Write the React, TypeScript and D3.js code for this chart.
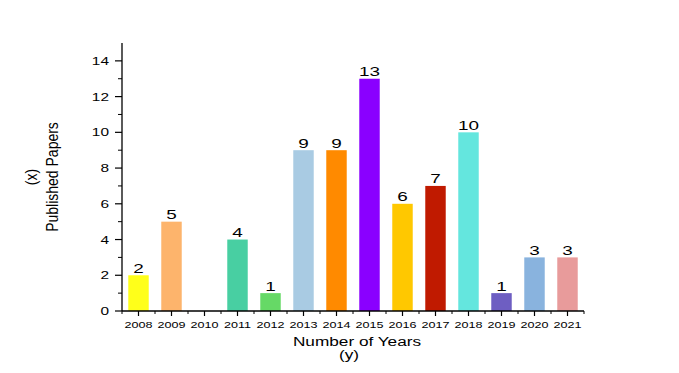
import React from "react";
import * as d3 from "d3";

const years = ["2008", "2009", "2010", "2011", "2012", "2013", "2014", "2015", "2016", "2017", "2018", "2019", "2020", "2021"];
const papers = [2, 5, 0, 4, 1, 9, 9, 13, 6, 7, 10, 1, 3, 3];
const colors = ["#FFFF1A", "#FDB46C", "#CCCCCC", "#48CFA2", "#66D966", "#A9CBE3", "#FF8A00", "#8A00FF", "#FFC800", "#C01A00", "#64E6DE", "#6E5EC2", "#89B3DE", "#E89B9B"];
const yTicks = [0, 2, 4, 6, 8, 10, 12, 14];

const font = "Arial, 'Liberation Sans', sans-serif";
const SX = 1.4; // the reference text is stretched sideways

// text stretched horizontally around its anchor point
const WideText = (p: { x: number; y: number; size: number; anchor?: string; children: any }) => (
  <text
    transform={`translate(${p.x},${p.y}) scale(${SX},1)`}
    textAnchor={p.anchor || "middle"}
    fontSize={p.size}
  >
    {p.children}
  </text>
);

export default function App() {
  const w = 679;
  const h = 373;
  const left = 122;
  const right = 584;
  const bottom = 311;
  const top = 43;

  const x = d3.scaleBand<string>().domain(years).range([left, right]).paddingInner(0.38).paddingOuter(0.19);
  const y = d3.scaleLinear().domain([0, 15]).range([bottom, top]);
  const minorY = d3.range(1, 15, 2);
  const step = x.step();

  return (
    <svg width={w} height={h} style={{ position: "absolute", left: 0, top: 0 }} fontFamily={font}>
      <rect width={w} height={h} fill="#fff" />
      {years.map((yr, i) => (
        <g key={yr}>
          {papers[i] > 0 && (
            <rect x={x(yr)} y={y(papers[i])} width={x.bandwidth()} height={bottom - y(papers[i])} fill={colors[i]} />
          )}
          {papers[i] > 0 && (
            <WideText x={(x(yr) as number) + x.bandwidth() / 2} y={y(papers[i]) - 2.5} size={13.5}>
              {papers[i]}
            </WideText>
          )}
        </g>
      ))}
      {/* y axis */}
      <line x1={left} x2={left} y1={top} y2={bottom} stroke="#000" strokeWidth={1.3} />
      {yTicks.map((t) => (
        <g key={t}>
          <line x1={left - 7} x2={left} y1={y(t)} y2={y(t)} stroke="#000" strokeWidth={1.2} />
          <WideText x={left - 13} y={y(t) + 4} size={11} anchor="end">
            {t}
          </WideText>
        </g>
      ))}
      {minorY.map((t) => (
        <line key={t} x1={left - 4} x2={left} y1={y(t)} y2={y(t)} stroke="#000" strokeWidth={1} />
      ))}
      {/* x axis */}
      <line x1={left} x2={right} y1={bottom} y2={bottom} stroke="#000" strokeWidth={1.3} />
      {years.map((yr) => {
        const cx = (x(yr) as number) + x.bandwidth() / 2;
        return (
          <g key={yr}>
            <line x1={cx} x2={cx} y1={bottom} y2={bottom + 5} stroke="#000" strokeWidth={1.2} />
            <line x1={cx + step / 2} x2={cx + step / 2} y1={bottom} y2={bottom + 3} stroke="#000" strokeWidth={1} />
            <WideText x={cx} y={bottom + 17} size={9}>
              {yr}
            </WideText>
          </g>
        );
      })}
      <line x1={left} x2={left} y1={bottom} y2={bottom + 3} stroke="#000" strokeWidth={1} />
      <WideText x={357} y={346} size={12.3}>
        Number of Years
      </WideText>
      <WideText x={349} y={359} size={12.3}>
        (y)
      </WideText>
      <text transform={`translate(58,${(top + bottom) / 2}) rotate(-90) scale(1,1.12)`} textAnchor="middle" fontSize={14}>
        Published Papers
      </text>
      <text transform={`translate(37,${(top + bottom) / 2}) rotate(-90) scale(1,1.12)`} textAnchor="middle" fontSize={14}>
        (x)
      </text>
    </svg>
  );
}
